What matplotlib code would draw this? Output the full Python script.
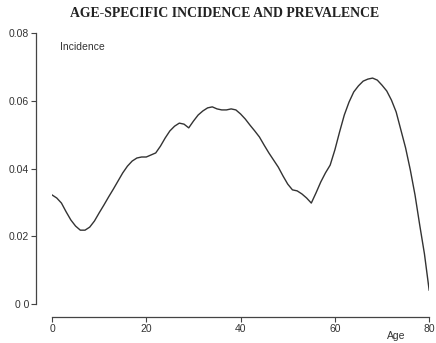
import matplotlib.pyplot as plt

# age-specific incidence
ages = list(range(0, 81))
incidence = [
    0.0322, 0.0313, 0.0298, 0.0272, 0.0248, 0.0230, 0.0218, 0.0218, 0.0227, 0.0245,
    0.0269, 0.0292, 0.0316, 0.0339, 0.0363, 0.0387, 0.0407, 0.0422, 0.0431, 0.0434,
    0.0434, 0.0440, 0.0446, 0.0466, 0.0490, 0.0511, 0.0525, 0.0534, 0.0531, 0.0520,
    0.0540, 0.0558, 0.0570, 0.0579, 0.0582, 0.0576, 0.0573, 0.0573, 0.0576, 0.0573,
    0.0561, 0.0546, 0.0528, 0.0511, 0.0493, 0.0469, 0.0446, 0.0425, 0.0404, 0.0378,
    0.0354, 0.0337, 0.0334, 0.0325, 0.0313, 0.0298, 0.0328, 0.0360, 0.0387, 0.0410,
    0.0455, 0.0508, 0.0558, 0.0596, 0.0626, 0.0644, 0.0658, 0.0664, 0.0667, 0.0661,
    0.0646, 0.0629, 0.0602, 0.0567, 0.0514, 0.0461, 0.0396, 0.0322, 0.0233, 0.0148,
    0.0041,
]

x_ticks = [0, 20, 40, 60, 80]
y_ticks = [0.0, 0.02, 0.04, 0.06, 0.08]
y_tick_labels = ["0 0", "0.02", "0.04", "0.06", "0.08"]

plt.rcParams['font.family'] = ['Liberation Sans', 'DejaVu Sans']

fig = plt.figure(figsize=(4.36, 3.43), dpi=100)
ax = fig.add_axes([0.1193, 0.1137, 0.865, 0.790])

ax.plot(ages, incidence, color="#333333", linewidth=1.0)

ax.set_xlim(0, 80)
ax.set_ylim(0, 0.08)

ax.spines["top"].set_visible(False)
ax.spines["right"].set_visible(False)
ax.spines["left"].set_position(("outward", 11.5))
ax.spines["bottom"].set_position(("outward", 9.4))
for side in ["left", "bottom"]:
    ax.spines[side].set_color("#444444")
    ax.spines[side].set_linewidth(0.9)

ax.set_xticks(x_ticks)
ax.set_yticks(y_ticks)
ax.set_yticklabels(y_tick_labels)
ax.tick_params(axis="both", direction="out", length=3.5, width=0.8, color="#444444",
               labelsize=7.5, labelcolor="#333333", pad=1.5)

ax.text(1.7, 0.0759, "Incidence", fontsize=7.5, color="#333333", va="center")
ax.text(0.912, -0.118, "Age", transform=ax.transAxes, fontsize=7.5, color="#333333",
        ha="center", va="center")

fig.text(0.514, 0.962, "AGE-SPECIFIC INCIDENCE AND PREVALENCE", ha="center", va="center",
         fontsize=9.9, fontweight="bold", family="Liberation Serif", color="#222222")

fig.savefig("out.png", dpi=100)
